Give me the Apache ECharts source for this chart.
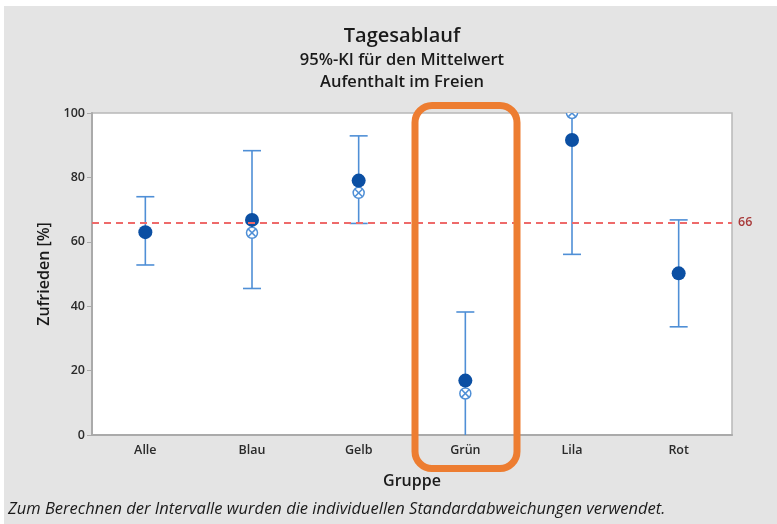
<!DOCTYPE html>
<html>
<head>
<meta charset="utf-8">
<script src="https://cdn.jsdelivr.net/npm/echarts@6/dist/echarts.min.js"></script>
<style>
  html, body { margin: 0; padding: 0; background: #fff; }
  #chart { width: 777px; height: 524px; }
</style>
</head>
<body>
<div id="chart"></div>
<script>
// Gruppen und Werte
const categories = ['Alle', 'Blau', 'Gelb', 'Grün', 'Lila', 'Rot']
const meanValues = [63.0, 66.8, 79.0, 16.9, 91.6, 50.2]
const openValues = [63.0, 62.8, 75.2, 12.9, 100.0, 50.2]
const ciLower = [52.8, 45.5, 65.7, -4.4, 56.1, 33.6]
const ciUpper = [74.0, 88.3, 92.9, 38.2, 127.1, 66.8]
const refValue = 66
const yTicks = [0, 20, 40, 60, 80, 100]

const FONT = '"Open Sans", "DejaVu Sans", sans-serif'
const barColor = '#4f8fd6'
const meanColor = '#0b4fa3'

const chart = echarts.init(document.getElementById('chart'))

const errorData = categories.map((c, i) => [i, ciLower[i], ciUpper[i]])
const openData = categories.map((c, i) => [i, openValues[i]])
const meanData = categories.map((c, i) => [i, meanValues[i]])

const option = {
  backgroundColor: '#e4e4e4',
  animation: false,
  textStyle: { fontFamily: FONT },
  title: [
    { text: 'Tagesablauf', left: 397, top: 21, textAlign: 'center',
      textStyle: { fontSize: 20, fontWeight: 600, color: '#1a1a1a', fontFamily: FONT } },
    { text: '95%-KI für den Mittelwert', left: 397, top: 47, textAlign: 'center',
      textStyle: { fontSize: 16.5, fontWeight: 600, color: '#1a1a1a', fontFamily: FONT } },
    { text: 'Aufenthalt im Freien', left: 397, top: 69, textAlign: 'center',
      textStyle: { fontSize: 16.5, fontWeight: 600, color: '#1a1a1a', fontFamily: FONT } },
  ],
  grid: {
    left: 92, right: 45, top: 113, bottom: 89,
    show: true, backgroundColor: '#fff', borderColor: '#b8b8b8', borderWidth: 1.5,
  },
  xAxis: {
    type: 'category',
    data: categories,
    name: 'Gruppe',
    nameLocation: 'middle',
    nameGap: 38,
    nameTextStyle: { fontSize: 16, fontWeight: 600, color: '#1a1a1a' },
    axisLine: { lineStyle: { color: '#aaa', width: 2 } },
    axisTick: { alignWithLabel: true, length: 4, lineStyle: { color: '#aaa' } },
    axisLabel: { fontSize: 12.5, fontWeight: 600, color: '#2a2a2a', margin: 9 },
  },
  yAxis: {
    type: 'value',
    min: 0, max: 100, interval: 20,
    name: 'Zufrieden [%]',
    nameLocation: 'middle',
    nameGap: 35,
    nameTextStyle: { fontSize: 16, fontWeight: 600, color: '#1a1a1a' },
    axisLine: { show: true, lineStyle: { color: '#aaa', width: 2 } },
    axisTick: { show: true, length: 5, lineStyle: { color: '#aaa' } },
    axisLabel: { fontSize: 12.5, fontWeight: 600, color: '#2a2a2a', margin: 7,
      formatter: v => yTicks.includes(v) ? String(v) : '' },
    splitLine: { show: false },
  },
  series: [
    {
      type: 'custom',
      name: 'KI',
      clip: true,
      data: errorData,
      renderItem: (params, api) => {
        const x = api.value(0)
        const lo = api.coord([x, api.value(1)])
        const hi = api.coord([x, api.value(2)])
        const w = 9
        const style = { stroke: barColor, lineWidth: 1.6 }
        return {
          type: 'group',
          children: [
            { type: 'line', shape: { x1: lo[0], y1: lo[1], x2: hi[0], y2: hi[1] }, style },
            { type: 'line', shape: { x1: lo[0] - w, y1: lo[1], x2: lo[0] + w, y2: lo[1] }, style },
            { type: 'line', shape: { x1: hi[0] - w, y1: hi[1], x2: hi[0] + w, y2: hi[1] }, style },
          ],
        }
      },
      z: 2,
    },
    {
      type: 'custom',
      name: 'Offen',
      clip: true,
      data: openData,
      renderItem: (params, api) => {
        const p = api.coord([api.value(0), api.value(1)])
        const r = 5.5
        const d = r * 0.707
        const style = { stroke: barColor, lineWidth: 1.5, fill: 'none' }
        return {
          type: 'group',
          children: [
            { type: 'circle', shape: { cx: p[0], cy: p[1], r }, style: { stroke: barColor, lineWidth: 1.5, fill: '#fff' } },
            { type: 'line', shape: { x1: p[0] - d, y1: p[1] - d, x2: p[0] + d, y2: p[1] + d }, style },
            { type: 'line', shape: { x1: p[0] - d, y1: p[1] + d, x2: p[0] + d, y2: p[1] - d }, style },
          ],
        }
      },
      z: 3,
    },
    {
      type: 'scatter',
      name: 'Mittelwert',
      data: meanData,
      symbol: 'circle',
      symbolSize: 14,
      itemStyle: { color: meanColor, opacity: 1 },
      z: 4,
      markLine: {
        silent: true,
        symbol: ['none', 'none'],
        data: [{ yAxis: refValue }],
        lineStyle: { color: '#ee6a6a', type: [7, 5], width: 2 },
        label: { position: 'end', formatter: String(refValue), color: '#a83a3a',
          fontSize: 12.5, fontWeight: 600, distance: 6 },
      },
    },
  ],
  graphic: [
    { type: 'rect', z: 100, silent: true, shape: { x: 0, y: 0, width: 777, height: 6 }, style: { fill: '#fff' } },
    { type: 'rect', z: 100, silent: true, shape: { x: 0, y: 0, width: 4, height: 524 }, style: { fill: '#fff' } },
    {
      type: 'rect', z: 100, silent: true,
      shape: { x: 415, y: 105.5, width: 102, height: 363, r: 17 },
      style: { fill: 'none', stroke: '#ed7d31', lineWidth: 7 },
    },
    {
      type: 'text', z: 100, silent: true, left: 8, top: 501,
      style: {
        text: 'Zum Berechnen der Intervalle wurden die individuellen Standardabweichungen verwendet.',
        fontSize: 16.5, fontStyle: 'italic', fill: '#1a1a1a', fontFamily: FONT,
      },
    },
  ],
}

chart.setOption(option)
</script>
</body>
</html>
